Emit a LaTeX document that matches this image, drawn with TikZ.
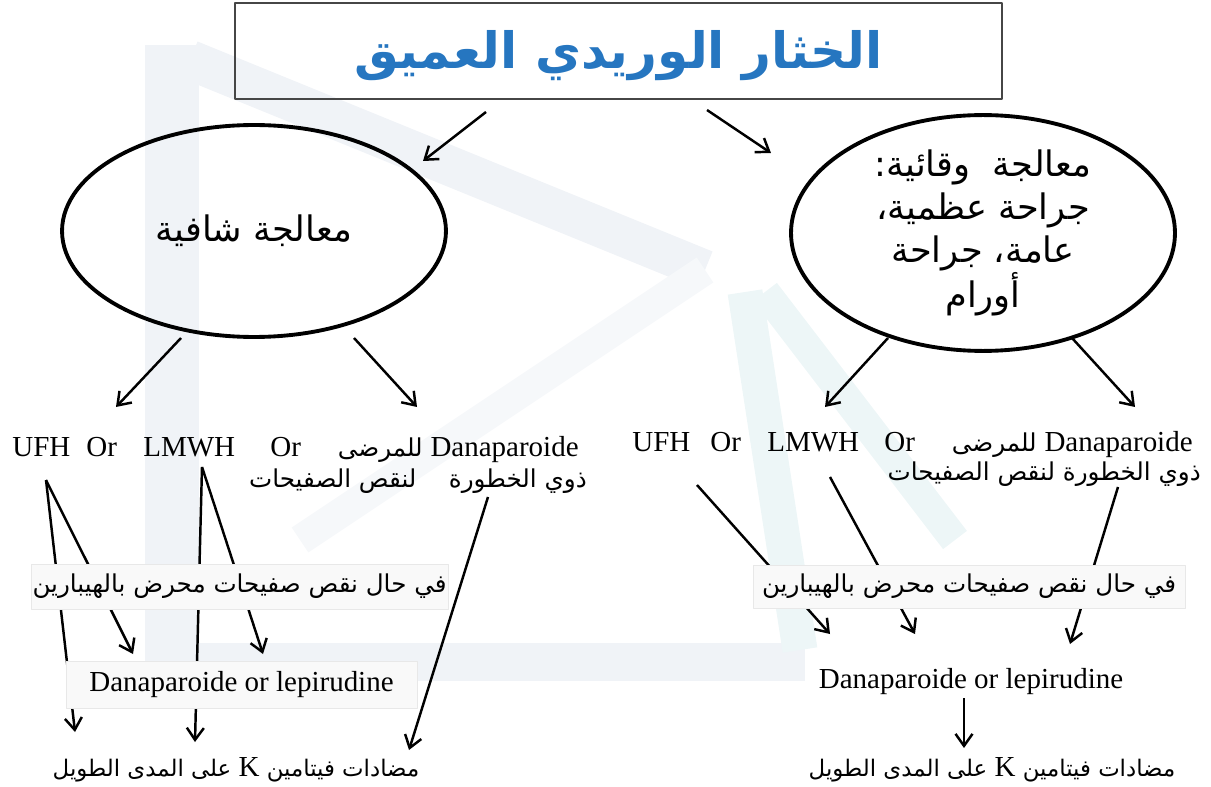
\documentclass[tikz,border=0pt]{standalone}
\usepackage{fontspec}
\setmainfont{Liberation Serif}
\newfontfamily\arabicfont[Script=Arabic]{DejaVu Sans}
\TeXXeTstate=1
\usetikzlibrary{arrows.meta,shapes.geometric}
\definecolor{titleblue}{RGB}{38,118,192}
\definecolor{framegray}{RGB}{70,70,70}
\definecolor{boxgray}{RGB}{249,249,249}
\definecolor{boxedge}{RGB}{232,232,232}
\definecolor{wmgray}{RGB}{240,243,247}
\definecolor{wmteal}{RGB}{237,246,247}
\pgfdeclarelayer{wmark}
\pgfdeclarelayer{links}
\pgfsetlayers{wmark,links,main}
\tikzset{
 arr/.style={-{Straight Barb[length=2.4mm,width=3.4mm]},line width=1.4pt},
 oval/.style={ellipse,draw,line width=2.2pt,minimum width=7.68cm,minimum height=4.24cm,
  inner sep=0pt,align=center,font=\arabicfont\fontsize{20}{24.5}\selectfont},
 latinword/.style={anchor=base west,inner sep=0pt,font=\fontsize{16.5}{19}\selectfont},
 arabline/.style={anchor=base east,inner sep=0pt,font=\arabicfont\fontsize{14}{17}\selectfont},
 notebox/.style={fill=boxgray,draw=boxedge,inner sep=0pt,font=\arabicfont\fontsize{14}{17}\selectfont},
 drugbox/.style={inner sep=0pt,font=\fontsize{16.5}{19}\selectfont},
 vitk/.style={inner sep=0pt,font=\arabicfont\fontsize{13}{16}\selectfont}
}
\newcommand{\dana}{{\rmfamily\fontsize{16.5}{19}\selectfont Danaparoide}}
\newcommand{\kay}{{\rmfamily\fontsize{16.5}{19}\selectfont K}}

\begin{document}
\begin{tikzpicture}[x=0.02cm,y=-0.02cm,line cap=round,line join=round]
 \useasboundingbox (0,0) rectangle (1211,787);
 \begin{pgfonlayer}{wmark}
  \draw[wmgray,line width=1.1cm,line cap=butt] (172,45) -- (172,690);
  \draw[wmgray,line width=0.75cm,line cap=butt] (150,662) -- (805,662);
  \draw[wmgray,line width=0.8cm] (190,60) -- (705,270);
  \draw[wmgray!60,line width=0.6cm] (705,270) -- (300,540);
  \draw[wmteal,line width=0.7cm] (745,292) -- (800,650);
  \draw[wmteal,line width=0.6cm] (765,292) -- (955,540);
 \end{pgfonlayer}

 \node[draw=framegray,line width=1.4pt,minimum width=15.34cm,minimum height=1.92cm,inner sep=0pt] (title) at (618.5,51) {};
 \node[text=titleblue,inner sep=0pt,font=\arabicfont\bfseries\fontsize{28.5}{34}\selectfont] (titletext) at (618.5,56)
  {\beginR الخثار الوريدي العميق\endR};

 \node[oval] (cure) at (254,231) {\beginR معالجة شافية\endR};
 \node[oval] (prevent) at (983,233)
  {\beginR معالجة\ \ وقائية:\endR\\\beginR جراحة عظمية،\endR\\\beginR عامة، جراحة\endR\\\beginR أورام\endR};

 \node[latinword] (ufhL) at (12,457) {UFH};
 \node[latinword] (orL1) at (86,457) {Or};
 \node[latinword] (lmwhL) at (143,457) {LMWH};
 \node[latinword] (orL2) at (270,457) {Or};
 \node[arabline] (riskL) at (579,457) {\beginR\dana\ للمرضى\endR};
 \node[arabline] (riskLb) at (587,487) {\beginR ذوي الخطورة\quad\ لنقص الصفيحات\endR};

 \node[latinword] (ufhR) at (632,451) {UFH};
 \node[latinword] (orR1) at (710,451) {Or};
 \node[latinword] (lmwhR) at (767,451) {LMWH};
 \node[latinword] (orR2) at (884,451) {Or};
 \node[arabline] (riskR) at (1193,451) {\beginR\dana\ للمرضى\endR};
 \node[arabline] (riskRb) at (1201,480) {\beginR ذوي الخطورة لنقص الصفيحات\endR};

 \node[notebox,minimum width=8.34cm,minimum height=0.9cm] (hitL) at (239.5,586.5)
  {\beginR في حال نقص صفيحات محرض بالهيبارين\endR};
 \node[notebox,minimum width=8.64cm,minimum height=0.86cm] (hitR) at (969,586.5)
  {\beginR في حال نقص صفيحات محرض بالهيبارين\endR};

 \node[drugbox,fill=boxgray,draw=boxedge,minimum width=7.02cm,minimum height=0.94cm] (danaL) at (241.5,684.5)
  {Danaparoide or lepirudine};
 \node[drugbox] (danaR) at (971,682) {Danaparoide or lepirudine};

 \node[vitk] (vitL) at (236,770) {\beginR مضادات فيتامين \kay\ على المدى الطويل\endR};
 \node[vitk] (vitR) at (992,770) {\beginR مضادات فيتامين \kay\ على المدى الطويل\endR};

 \coordinate (titleL) at (486,112);
 \coordinate (cureIn) at (423,161);
 \coordinate (titleR) at (707,110);
 \coordinate (preventIn) at (771,153);
 \coordinate (cureOutA) at (181,338);
 \coordinate (rowLA) at (116,407);
 \coordinate (cureOutB) at (354,338);
 \coordinate (rowLB) at (417,407);
 \coordinate (preventOutA) at (888,338);
 \coordinate (rowRA) at (825,407);
 \coordinate (preventOutB) at (1072,338);
 \coordinate (rowRB) at (1135,407);

 \coordinate (ufhLfork) at (46,480);
 \coordinate (lmwhLfork) at (202,467);
 \coordinate (riskLout) at (488,497);
 \coordinate (ufhRout) at (697,485);
 \coordinate (lmwhRout) at (830,477);
 \coordinate (riskRout) at (1118,487);

 \begin{pgfonlayer}{links}
  \draw[arr] (titleL) -- (cureIn);
  \draw[arr] (titleR) -- (preventIn);
  \draw[arr] (cureOutA) -- (rowLA);
  \draw[arr] (cureOutB) -- (rowLB);
  \draw[arr] (preventOutA) -- (rowRA);
  \draw[arr] (preventOutB) -- (rowRB);

  \draw[arr] (ufhLfork) -- (75,732);
  \draw[arr] (ufhLfork) -- (133,654);
  \draw[arr] (lmwhLfork) -- (195,742);
  \draw[arr] (lmwhLfork) -- (263,654);
  \draw[arr] (riskLout) -- (409,750);

  \draw[arr] (ufhRout) -- (830,634);
  \draw[arr] (lmwhRout) -- (915,634);
  \draw[arr] (riskRout) -- (1070,644);
  \draw[arr] (danaR.south -| 964,0) ++(0,3) -- (964,748);
 \end{pgfonlayer}
\end{tikzpicture}
\end{document}
